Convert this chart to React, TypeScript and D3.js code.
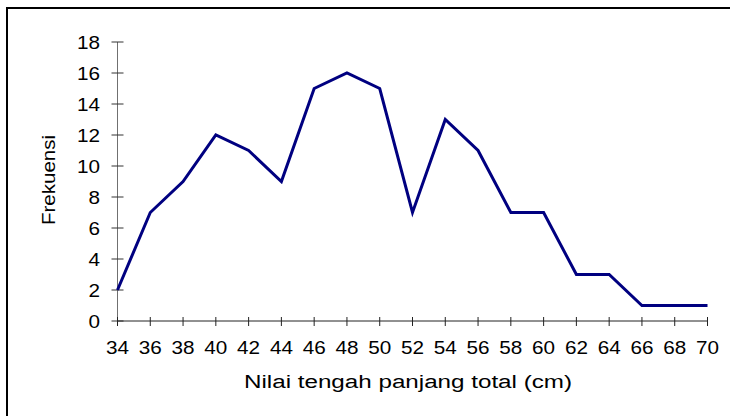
import React from "react";
import * as d3 from "d3";

const categories = [34, 36, 38, 40, 42, 44, 46, 48, 50, 52, 54, 56, 58, 60, 62, 64, 66, 68, 70];
const frequencies = [2, 7, 9, 12, 11, 9, 15, 16, 15, 7, 13, 11, 7, 7, 3, 3, 1, 1, 1];
const yTicks = [0, 2, 4, 6, 8, 10, 12, 14, 16, 18];
const xTitle = "Nilai tengah panjang total (cm)";
const yTitle = "Frekuensi";

export default function App() {
  const W = 730, H = 416;
  const left = 117.5, right = 707.5, top = 42, bottom = 321;
  const x = d3.scaleLinear().domain([34, 70]).range([left, right]);
  const y = d3.scaleLinear().domain([0, 18]).range([bottom, top]);
  const line = d3.line<number>().x((_, i) => x(categories[i])).y((d) => y(d));
  const font = "'Liberation Sans', Arial, sans-serif";
  const sx = 1.15;
  return (
    <svg width={W} height={H} style={{ position: "absolute", left: 0, top: 0 }} fontFamily={font}>
      <rect x={0} y={0} width={W} height={H} fill="#fff" />
      <rect x={7} y={8} width={760} height={440} fill="none" stroke="#000" strokeWidth={2} />
      {/* y axis */}
      <line x1={left} x2={left} y1={top} y2={bottom} stroke="#707070" strokeWidth={1} />
      {yTicks.map((t) => (
        <g key={"y" + t}>
          <line x1={left - 6} x2={left + 6} y1={y(t)} y2={y(t)} stroke="#333" strokeWidth={1} />
          <text
            transform={`translate(${100},${y(t) + 6.5}) scale(${sx},1)`}
            textAnchor="end"
            fontSize={18}
            fill="#000"
          >
            {t}
          </text>
        </g>
      ))}
      {/* x axis */}
      <line x1={left} x2={right} y1={bottom} y2={bottom} stroke="#222" strokeWidth={1} />
      {categories.map((c) => (
        <g key={"x" + c}>
          <line x1={x(c)} x2={x(c)} y1={bottom - 4} y2={bottom + 5} stroke="#222" strokeWidth={1} />
          <text
            transform={`translate(${x(c)},${354}) scale(${sx},1)`}
            textAnchor="middle"
            fontSize={18}
            fill="#000"
          >
            {c}
          </text>
        </g>
      ))}
      <path d={line(frequencies) || ""} fill="none" stroke="#000080" strokeWidth={3} strokeLinejoin="miter" />
      <text
        x={408}
        y={388}
        textAnchor="middle"
        fontSize={18}
        fill="#000"
        textLength={328}
        lengthAdjust="spacingAndGlyphs"
      >
        {xTitle}
      </text>
      <text
        transform={`translate(${55},${180}) rotate(-90)`}
        textAnchor="middle"
        fontSize={18}
        fill="#000"
        textLength={90}
        lengthAdjust="spacingAndGlyphs"
      >
        {yTitle}
      </text>
    </svg>
  );
}
